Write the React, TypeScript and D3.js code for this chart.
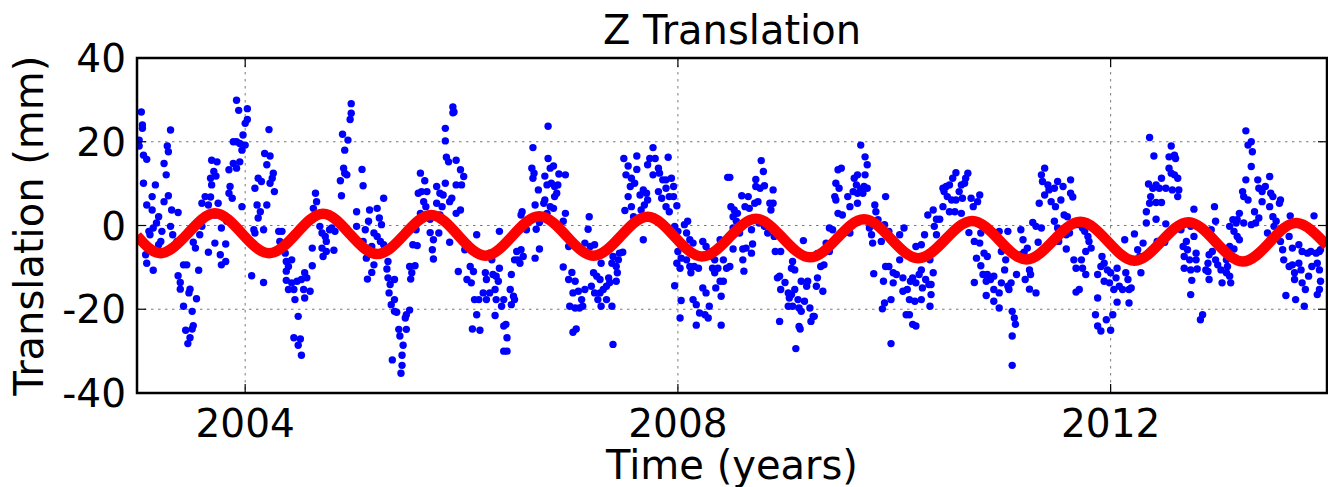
import React, { useEffect, useRef } from 'react';
import * as d3 from 'd3';

const obs2003 = [
  [2003.04,27.1],[2003.05,24.0],[2003.05,23.2],[2003.02,20.4],[2003.02,19.0],[2003.06,16.8],[2003.09,15.8],[2003.06,10.1],
  [2003.14,6.9],[2003.09,4.9],[2003.14,3.7],[2003.17,9.7],[2003.20,2.1],[2003.18,0.6],[2003.15,-0.6],[2003.11,-1.4],
  [2003.12,-2.2],[2003.23,-1.4],[2003.22,-3.8],[2003.20,-4.6],[2003.17,-6.2],[2003.08,-7.0],[2003.09,-9.0],[2003.15,-10.7],
  [2003.31,22.8],[2003.28,19.0],[2003.29,17.6],[2003.25,14.8],[2003.27,12.1],[2003.29,7.1],[2003.25,5.7],[2003.32,3.7],
  [2003.38,3.1],[2003.31,-0.2],[2003.33,-2.2],[2003.37,-3.8],[2003.38,-12.0],[2003.40,-13.6],[2003.40,-15.2],[2003.43,-9.4],
  [2003.46,-9.4],[2003.49,-15.2],[2003.48,-16.1],[2003.55,-17.5],[2003.43,-19.3],[2003.51,-20.5],[2003.45,-25.0],[2003.52,-23.9],
  [2003.51,-24.7],[2003.49,-26.8],[2003.47,-28.2],[2003.57,-10.7],[2003.54,-5.4],[2003.52,-4.0],[2003.58,-2.2],[2003.60,-0.2],
  [2003.63,2.1],[2003.60,5.3],[2003.63,6.9],[2003.68,6.8],[2003.66,4.9],[2003.68,11.3],[2003.69,15.6],[2003.74,15.2],
  [2003.71,12.9],[2003.73,11.8],[2003.69,9.7],[2003.75,5.3],[2003.72,2.5],[2003.66,-6.4],[2003.72,-4.2],[2003.77,-7.0],
  [2003.78,-9.4],[2003.82,-4.4],[2003.82,-8.6],[2003.78,-0.6],[2003.83,1.0],[2003.85,7.7],[2003.88,6.5],[2003.86,9.3],
  [2003.85,13.3],[2003.89,14.8],[2003.92,13.7],[2003.92,29.9],[2003.94,27.5],[2004.02,27.9],[2004.00,24.4],[2004.02,25.3],
  [2003.98,21.6],[2003.89,20.0],[2003.92,20.0],[2003.95,19.6],[2003.97,18.0],[2003.95,15.2],[2003.97,4.5],[2004.00,19.2],
  [2004.06,-12.0],[2004.17,-13.6],[2004.08,-1.0],[2004.09,-1.8],[2004.17,-1.0],[2004.12,1.8],[2004.14,3.3],[2004.11,4.9],
  [2004.09,8.9],[2004.12,11.3],[2004.15,10.5],[2004.20,4.9],[2004.20,14.5],[2004.18,17.2],[2004.23,16.6],[2004.22,22.9],
  [2004.25,11.3],[2004.26,12.5],[2004.27,8.1],[2004.23,10.1],[2004.31,-1.4],[2004.34,-1.4],[2004.32,-3.8],[2004.34,-5.0],
  [2004.37,-6.6],[2004.38,-8.6],[2004.40,-9.8],[2004.43,-8.2],[2004.38,-10.9],[2004.38,-13.1],[2004.43,-13.7],[2004.40,-15.3],
  [2004.45,-15.3],[2004.48,-13.3],[2004.52,-12.9],[2004.55,-11.3],[2004.57,-12.5],[2004.54,-15.3],[2004.60,-15.7],[2004.55,-17.3],
  [2004.46,-17.7],[2004.49,-21.7],[2004.45,-26.8],[2004.51,-27.1],[2004.49,-28.6],[2004.52,-31.0],[2004.62,-5.4],[2004.62,-9.6],
  [2004.65,7.7],[2004.63,4.1],[2004.66,5.7],[2004.69,-0.2],[2004.71,-1.8],[2004.74,-2.6],[2004.71,-5.4],[2004.75,-3.8],
  [2004.72,-7.4],[2004.75,-6.2],[2004.78,-1.0],
];

const obs2005 = [
  [2004.80,-0.6],[2004.83,-1.4],[2004.82,-5.9],[2004.98,29.1],[2004.98,26.8],[2004.97,25.3],[2004.90,21.8],[2004.95,20.4],
  [2004.92,18.0],[2004.91,13.7],[2004.92,12.5],[2004.94,12.1],[2004.88,10.7],[2004.89,7.1],[2005.08,13.4],[2005.09,9.5],
  [2005.03,3.3],[2005.03,-0.2],[2005.09,-3.8],[2005.12,-7.8],[2005.13,-12.8],[2005.17,-11.2],[2005.19,-9.4],[2005.11,-1.0],
  [2005.14,1.0],[2005.15,3.7],[2005.22,4.1],[2005.24,1.8],[2005.26,0.2],[2005.19,-1.8],[2005.22,-2.6],[2005.17,-5.0],
  [2005.25,-3.8],[2005.28,-4.6],[2005.28,6.5],[2005.32,-8.6],[2005.31,-10.4],[2005.32,-12.5],[2005.38,-12.9],[2005.34,-14.1],
  [2005.33,-16.1],[2005.38,-17.7],[2005.35,-18.9],[2005.38,-20.5],[2005.40,-20.7],[2005.52,-20.2],[2005.49,-21.3],[2005.48,-22.1],
  [2005.42,-24.8],[2005.43,-26.4],[2005.49,-24.8],[2005.46,-28.6],[2005.36,-32.1],[2005.45,-31.0],[2005.45,-33.4],[2005.44,-35.3],
  [2005.52,-9.8],[2005.57,-9.6],[2005.54,-11.3],[2005.53,-12.8],[2005.55,-4.6],[2005.59,-4.8],[2005.58,-1.0],[2005.62,12.5],
  [2005.66,10.7],[2005.60,7.7],[2005.63,8.1],[2005.68,8.1],[2005.65,5.7],[2005.67,4.5],[2005.62,2.9],[2005.66,2.1],
  [2005.71,1.5],[2005.71,-1.7],[2005.74,-3.4],[2005.73,-5.8],[2005.74,-8.0],[2005.77,9.3],[2005.80,7.7],[2005.83,7.3],
  [2005.77,5.3],[2005.82,4.5],[2005.85,10.1],[2005.80,2.5],[2005.79,-1.8],[2005.89,-4.0],[2005.85,23.2],[2005.85,20.2],
  [2005.86,16.3],[2005.88,15.2],[2005.95,15.6],[2005.92,28.3],[2005.93,27.1],[2005.92,26.9],[2005.99,13.3],[2006.02,11.7],
  [2006.00,9.7],[2005.95,9.7],[2005.91,6.5],[2005.89,5.7],[2005.99,3.7],[2005.95,2.9],[2006.03,-5.8],[2005.97,-11.0],
  [2006.05,-12.9],[2006.08,-9.8],[2006.11,-11.0],[2006.09,-13.7],[2006.14,-2.2],[2006.12,-17.7],[2006.16,-17.7],[2006.20,-16.1],
  [2006.22,-11.3],[2006.23,-12.9],[2006.26,-6.6],[2006.28,-8.2],[2006.29,-11.7],[2006.32,-12.1],[2006.34,-13.3],[2006.35,-10.2],
  [2006.31,-15.3],[2006.26,-16.1],[2006.23,-17.7],[2006.35,-1.4],[2006.32,-17.7],[2006.37,-19.3],[2006.39,-17.7],[2006.45,-15.3],
  [2006.48,-16.9],[2006.49,-17.7],[2006.46,-18.9],[2006.46,-11.7],[2006.49,-8.2],[2006.51,-6.2],[2006.55,-5.8],[2006.52,-8.2],
  [2006.57,-7.4],[2006.54,-9.0],[2006.39,-24.0],[2006.41,-23.6],[2006.42,-26.8],[2006.39,-30.0],[2006.42,-30.0],[2006.14,-21.3],
  [2006.31,-21.5],[2006.10,-24.7],[2006.17,-25.0],[2006.55,2.5],[2006.56,3.3],[2006.60,-1.0],
];

const obs2007 = [
  [2006.66,18.6],[2006.65,13.7],[2006.66,11.3],[2006.67,12.5],[2006.68,4.9],[2006.69,-0.9],[2006.72,-5.6],[2006.68,-7.8],
  [2006.80,23.7],[2006.80,16.0],[2006.77,11.8],[2006.82,13.7],[2006.85,14.2],[2006.90,12.3],[2006.96,12.1],[2006.79,9.7],
  [2006.83,10.1],[2006.86,9.3],[2006.89,9.7],[2006.88,7.7],[2006.86,6.9],[2006.71,8.5],[2006.76,5.3],[2006.77,6.1],
  [2006.82,4.5],[2006.85,4.1],[2006.76,2.1],[2006.72,0.7],[2006.79,2.9],[2006.96,2.9],[2006.94,1.0],[2006.99,-5.0],
  [2006.94,-9.9],[2007.02,-11.2],[2006.99,-12.9],[2007.05,-13.3],[2007.03,-16.1],[2007.08,-15.7],[2007.11,-17.7],[2007.14,-15.3],
  [2007.12,-19.3],[2007.00,-19.3],[2007.05,-19.7],[2007.09,-19.7],[2007.03,-25.5],[2007.06,-24.7],[2007.18,2.1],[2007.17,-0.9],
  [2007.14,-4.2],[2007.19,-5.0],[2007.23,-4.6],[2007.20,-7.4],[2007.22,-11.3],[2007.25,-12.1],[2007.28,-12.9],[2007.29,-9.0],
  [2007.20,-14.5],[2007.23,-16.1],[2007.28,-16.1],[2007.31,-15.3],[2007.34,-14.5],[2007.36,-12.5],[2007.37,-13.6],[2007.26,-17.7],
  [2007.29,-19.3],[2007.34,-17.7],[2007.39,-19.3],[2007.40,-28.4],[2007.39,-9.0],[2007.40,-7.4],[2007.43,-9.8],[2007.45,-8.2],
  [2007.46,-6.6],[2007.49,-6.4],[2007.44,-11.3],[2007.43,-13.3],[2007.50,16.0],[2007.54,14.2],[2007.52,12.1],[2007.57,11.3],
  [2007.56,9.3],[2007.62,13.4],[2007.62,16.6],[2007.60,10.1],[2007.54,6.9],[2007.57,4.5],[2007.51,3.6],[2007.59,2.1],
  [2007.65,7.3],[2007.68,8.5],[2007.71,7.7],[2007.72,6.1],[2007.69,4.9],[2007.66,3.7],[2007.68,-3.4],[2007.74,16.0],
  [2007.72,14.5],[2007.77,18.6],[2007.79,16.0],[2007.77,12.1],[2007.82,13.7],[2007.83,12.5],[2007.86,10.9],[2007.89,10.9],
  [2007.94,11.3],[2007.96,9.3],[2007.91,16.3],[2007.82,8.1],[2007.85,6.5],[2007.89,8.9],[2007.92,6.9],[2007.96,6.9],
  [2007.99,4.7],[2007.89,4.5],[2007.92,3.3],[2007.97,-0.2],[2008.00,-1.4],[2007.99,-3.4],[2008.00,-6.2],[2008.03,-7.8],
  [2008.09,1.0],[2008.06,0.2],[2008.08,-1.8],[2008.11,-3.4],[2008.14,-4.2],[2007.99,-9.0],[2008.02,-10.2],[2008.08,-8.2],
  [2008.11,-9.8],[2008.12,-11.3],[2008.15,-9.8],[2008.19,-10.2],[2008.23,-3.8],[2008.26,-5.0],[2008.29,-6.2],[2008.31,-7.4],
  [2008.34,-8.2],[2008.39,-3.4],[2008.42,-8.2],[2008.45,-10.2],[2008.37,-10.2],[2008.32,-10.2],[2008.34,-11.3],[2008.39,-13.3],
  [2008.42,-13.3],[2008.35,-14.9],[2008.40,-16.9],[2008.29,-19.3],[2008.23,-14.9],[2008.26,-16.1],[2008.14,-17.7],[2008.17,-18.9],
  [2008.20,-20.9],[2008.25,-21.3],[2008.28,-22.1],[2008.17,-23.8],[2008.40,-23.8],[2007.97,-14.4],[2008.03,-17.9],[2008.02,-22.1],
  [2008.46,11.5],
];

const obs2009 = [
  [2008.48,11.5],[2008.49,4.5],[2008.52,3.7],[2008.51,2.1],[2008.54,1.0],[2008.55,2.9],[2008.51,-0.6],[2008.57,-1.8],
  [2008.51,-5.6],[2008.48,-9.8],[2008.59,7.1],[2008.65,6.9],[2008.66,4.1],[2008.62,4.5],[2008.71,5.3],[2008.74,5.7],
  [2008.77,15.5],[2008.79,12.9],[2008.72,11.0],[2008.76,8.9],[2008.80,9.5],[2008.72,9.3],[2008.88,8.5],[2008.85,5.3],
  [2008.88,5.3],[2008.86,3.7],[2008.68,-1.0],[2008.75,0.6],[2008.80,-0.2],[2008.83,-1.8],[2008.89,-2.6],[2008.60,-5.6],
  [2008.63,-5.4],[2008.68,-6.6],[2008.69,-4.4],[2008.60,-8.2],[2008.61,-10.9],[2008.90,-6.2],[2008.95,-6.2],[2008.94,-12.1],
  [2008.92,-12.5],[2008.95,-15.3],[2008.99,-13.6],[2009.02,-16.1],[2009.03,-17.3],[2009.05,-16.5],[2009.08,-15.3],[2009.05,-10.2],
  [2009.06,-8.6],[2009.08,-10.6],[2008.94,-22.9],[2009.02,-19.3],[2009.06,-19.3],[2009.12,-19.7],[2009.14,-20.5],[2009.11,-17.7],
  [2009.17,-18.1],[2009.14,-13.3],[2009.19,-14.5],[2009.20,-13.3],[2009.22,-19.7],[2009.25,-21.7],[2009.23,-22.9],[2009.26,-21.7],
  [2009.12,-24.1],[2009.13,-24.7],[2009.09,-29.4],[2009.16,-3.6],[2009.28,-14.5],[2009.29,-12.5],[2009.34,-15.7],[2009.29,-6.7],
  [2009.32,-9.8],[2009.35,-9.4],[2009.37,-4.2],[2009.40,-0.6],[2009.43,-1.0],[2009.39,-5.4],[2009.40,-6.2],[2009.45,6.9],
  [2009.46,6.1],[2009.48,13.3],[2009.51,13.7],[2009.49,8.9],[2009.46,10.1],[2009.48,2.9],[2009.52,2.5],[2009.57,6.9],
  [2009.59,-1.8],[2009.59,4.5],[2009.63,11.3],[2009.65,9.7],[2009.66,12.1],[2009.62,8.1],[2009.66,7.7],[2009.69,8.7],
  [2009.71,7.7],[2009.72,9.3],[2009.73,12.1],[2009.75,8.9],[2009.69,19.2],[2009.73,16.4],[2009.75,14.5],[2009.66,5.3],
  [2009.77,-0.6],[2009.79,-2.2],[2009.80,-4.2],[2009.82,4.9],[2009.83,3.3],[2009.85,1.4],[2009.88,-3.8],[2009.92,6.9],
  [2009.91,0.2],[2009.95,-1.4],[2009.92,-9.8],[2009.95,-9.8],[2009.99,-11.3],[2010.02,-11.7],[2010.05,-8.2],[2010.05,-2.2],
  [2010.09,-0.6],[2009.90,-13.3],[2009.99,-13.7],[2010.08,-12.5],[2010.12,-15.3],[2010.08,-15.7],[2010.15,-13.3],[2010.17,-12.5],
  [2010.20,-13.7],[2010.23,-11.7],[2010.25,-10.6],[2010.26,-14.9],[2010.29,-12.9],[2010.32,-14.1],[2010.25,-17.7],[2010.19,-18.1],
  [2010.14,-17.7],[2010.11,-21.3],[2010.14,-21.3],[2010.17,-23.6],[2010.20,-24.0],[2009.97,-17.7],[2009.91,-18.5],[2009.89,-19.9],
  [2009.97,-28.2],[2009.81,-11.5],[2010.20,-5.0],[2010.25,-4.6],[2010.28,-2.2],[2010.31,2.5],
];

const obs2011 = [
  [2010.36,3.7],[2010.39,1.5],[2010.37,-0.2],[2010.39,-2.2],[2010.42,1.5],[2010.33,-8.2],[2010.36,-11.3],[2010.34,-14.1],
  [2010.34,-16.5],[2010.33,-19.3],[2010.45,8.9],[2010.48,9.3],[2010.46,8.1],[2010.49,6.9],[2010.51,9.7],[2010.54,11.3],
  [2010.57,12.6],[2010.62,9.7],[2010.65,10.1],[2010.68,12.5],[2010.66,11.3],[2010.60,8.1],[2010.57,6.1],[2010.53,6.1],
  [2010.63,6.5],[2010.45,4.5],[2010.51,3.3],[2010.56,3.3],[2010.62,2.9],[2010.71,6.5],[2010.73,4.5],[2010.77,5.7],
  [2010.79,7.3],[2010.69,-1.7],[2010.74,-3.8],[2010.79,-4.2],[2010.80,-1.8],[2010.76,-7.8],[2010.80,-9.6],[2010.83,-6.6],
  [2010.86,-7.4],[2010.82,-11.7],[2010.86,-11.7],[2010.85,-13.3],[2010.89,-12.9],[2010.92,-12.1],[2010.74,-13.6],[2010.85,-16.7],
  [2010.92,-15.3],[2010.92,-18.1],[2010.97,-19.7],[2010.97,-16.1],[2010.99,-13.7],[2011.02,-10.6],[2011.03,-8.2],[2010.99,-6.2],
  [2010.97,-1.4],[2011.05,-1.4],[2011.06,-15.3],[2011.05,-14.5],[2011.08,-13.7],[2011.09,-20.5],[2011.11,-22.1],[2011.12,-23.6],
  [2011.09,-26.4],[2011.09,-33.4],[2011.13,-11.7],[2011.17,-1.0],[2011.19,-3.4],[2011.17,-7.0],[2011.23,-5.4],[2011.20,-6.4],
  [2011.22,-8.2],[2011.25,-10.6],[2011.21,-12.9],[2011.26,-11.7],[2011.25,-15.2],[2011.31,-16.1],[2011.28,0.7],[2011.31,-0.2],
  [2011.33,-4.0],[2011.36,-0.6],[2011.39,13.7],[2011.36,12.1],[2011.37,10.5],[2011.42,9.7],[2011.39,7.3],[2011.34,5.3],
  [2011.43,8.5],[2011.48,8.9],[2011.51,10.5],[2011.45,5.7],[2011.49,4.5],[2011.56,9.3],[2011.54,6.1],[2011.63,10.9],
  [2011.63,7.7],[2011.65,6.8],[2011.57,2.5],[2011.60,2.1],[2011.48,1.0],[2011.51,-0.6],[2011.56,-1.8],[2011.59,-2.2],
  [2011.52,-3.8],[2011.59,-5.6],[2011.62,-1.8],[2011.69,0.2],[2011.74,-0.6],[2011.76,-1.4],[2011.79,-2.6],[2011.80,-3.8],
  [2011.82,-5.4],[2011.77,-6.2],[2011.73,-8.2],[2011.66,-8.2],[2011.68,-10.2],[2011.74,-10.2],[2011.77,-11.7],[2011.71,-15.3],
  [2011.68,-15.9],[2011.88,-17.3],[2011.86,-21.3],[2011.88,-24.0],[2011.91,-25.2],[2011.96,-22.5],[2012.00,-25.0],[2012.02,-21.3],
  [2011.92,-7.4],[2011.94,-9.0],[2011.91,-9.8],[2011.88,-11.7],[2011.94,-13.3],[2011.97,-10.6],[2012.00,-11.3],[2011.99,-13.7],
  [2012.03,-15.3],[2012.05,-12.5],[2012.06,-10.2],[2012.08,-14.5],[2012.11,-15.3],[2012.14,-11.3],[2012.16,-12.9],[2012.17,-15.3],
  [2012.17,-18.5],[2012.06,-18.3],[2012.13,-3.4],
];

const obs2013 = [
  [2012.22,-2.0],[2012.30,-4.2],[2012.25,-5.8],[2012.27,-7.4],[2012.28,-11.3],[2012.19,-14.9],[2012.36,21.0],[2012.40,16.6],
  [2012.56,19.0],[2012.54,16.4],[2012.59,16.8],[2012.60,16.0],[2012.54,13.7],[2012.56,12.5],[2012.59,12.1],[2012.62,11.3],
  [2012.47,11.3],[2012.35,9.9],[2012.39,8.9],[2012.42,9.7],[2012.45,8.9],[2012.51,8.9],[2012.57,8.5],[2012.62,6.9],
  [2012.63,8.5],[2012.37,6.9],[2012.36,5.3],[2012.42,5.5],[2012.47,5.5],[2012.33,3.3],[2012.42,1.5],[2012.33,0.6],
  [2012.51,0.4],[2012.65,-1.0],[2012.43,-3.8],[2012.50,-4.0],[2012.77,3.9],[2012.74,-0.2],[2012.77,-2.6],[2012.67,-5.0],
  [2012.70,-3.8],[2012.71,-5.8],[2012.68,-7.4],[2012.73,-8.2],[2012.79,-6.6],[2012.79,-8.2],[2012.74,-10.6],[2012.68,-10.2],
  [2012.80,-10.4],[2012.75,-13.1],[2012.74,-16.5],[2012.85,-21.3],[2012.83,-22.5],[2012.91,-7.0],[2012.90,-9.0],[2012.94,-6.2],
  [2012.88,-10.6],[2012.90,-11.0],[2012.91,-12.9],[2012.97,-8.2],[2012.99,-9.4],[2013.02,-10.6],[2013.03,-13.7],[2013.07,-8.2],
  [2013.08,-9.8],[2013.10,-12.1],[2013.11,-13.7],[2013.07,-11.3],[2013.10,-5.0],[2013.14,-5.6],[2013.11,-7.8],[2012.96,4.5],
  [2012.97,1.0],[2012.93,-1.0],[2013.10,-0.2],[2013.13,1.4],[2013.16,0.6],[2013.19,2.9],[2013.14,-1.4],[2013.17,-2.6],
  [2013.19,-3.4],[2013.25,22.6],[2013.27,19.2],[2013.30,20.0],[2013.31,17.6],[2013.30,14.1],[2013.25,10.9],[2013.22,8.1],
  [2013.23,6.9],[2013.27,6.1],[2013.17,1.4],[2013.23,0.6],[2013.30,0.2],[2013.33,3.3],[2013.36,10.9],[2013.37,8.9],
  [2013.40,8.1],[2013.43,9.3],[2013.47,11.7],[2013.48,7.7],[2013.50,6.9],[2013.40,5.7],[2013.47,4.5],[2013.37,1.8],
  [2013.34,0.6],[2013.50,2.1],[2013.53,1.0],[2013.56,5.3],[2013.57,6.1],[2013.51,-0.2],[2013.54,-1.8],[2013.45,-1.8],
  [2013.57,-3.8],[2013.59,-5.8],[2013.62,-0.6],[2013.65,-2.6],[2013.66,2.3],[2013.68,-5.4],[2013.74,-4.6],[2013.77,-6.2],
  [2013.88,2.3],[2013.82,-6.6],[2013.85,-6.2],[2013.90,-6.6],[2013.93,-6.2],[2013.94,-5.8],[2013.60,-8.2],[2013.65,-9.8],
  [2013.68,-9.4],[2013.70,-11.3],[2013.70,-12.9],[2013.74,-9.0],[2013.76,-10.6],[2013.77,-13.7],[2013.80,-15.3],[2013.83,-12.1],
  [2013.86,-9.8],[2013.91,-9.0],[2013.93,-10.6],[2013.94,-13.3],[2013.93,-15.3],[2013.91,-16.5],[2013.79,-19.3],[2013.71,-17.7],
  [2013.62,-16.7],
];

// fitted annual signal: troughs, crossings and peaks
const fitTimes = [
  2003.00, 2003.22, 2003.47, 2003.72, 2003.97, 2004.22, 2004.47, 2004.72, 2004.97, 2005.22, 2005.47, 2005.72,
  2005.97, 2006.22, 2006.47, 2006.72, 2006.97, 2007.22, 2007.47, 2007.72, 2007.97, 2008.22, 2008.47, 2008.72,
  2008.97, 2009.22, 2009.47, 2009.72, 2009.97, 2010.22, 2010.47, 2010.72, 2010.97, 2011.22, 2011.47, 2011.72,
  2011.97, 2012.22, 2012.47, 2012.72, 2012.97, 2013.22, 2013.47, 2013.72, 2014.00,
];
const fitValues = [
  -2.4, -6.6, -1.9, 2.9, -1.9, -6.6, -2.0, 2.8, -2.1, -6.8, -2.2, 2.5,
  -2.4, -7.2, -2.5, 2.2, -2.5, -7.2, -2.6, 2.1, -2.7, -7.4, -3.0, 1.6,
  -3.0, -7.6, -3.1, 1.5, -3.2, -7.8, -3.4, 1.1, -3.5, -8.1, -3.6, 0.9,
  -3.7, -8.4, -3.8, 0.8, -3.9, -8.6, -4.0, 0.6, -4.8,
];

const xTicks = [2004, 2008, 2012];
const yTicks = [-40, -20, 0, 20, 40];

const W = 1328;
const H = 487;
const margin = { left: 137, right: 1, top: 58, bottom: 94 };
const FONT = '"DejaVu Sans", sans-serif';

export default function App() {
  const ref = useRef<SVGSVGElement>(null);

  useEffect(() => {
    if (!ref.current) return;
    const svg = d3.select(ref.current);
    svg.selectAll('*').remove();

    const x = d3.scaleLinear().domain([2003, 2014]).range([margin.left, W - margin.right]);
    const y = d3.scaleLinear().domain([-40, 40]).range([H - margin.bottom, margin.top]);
    const [x0, x1] = x.range();
    const [y0, y1] = [y(40), y(-40)];

    svg.append('defs').append('clipPath').attr('id', 'plot-clip')
      .append('rect').attr('x', x0).attr('y', y0).attr('width', x1 - x0).attr('height', y1 - y0);

    // dotted grid
    const grid = svg.append('g').attr('stroke', '#7a7a7a').attr('stroke-width', 1).attr('stroke-dasharray', '2.5,4.5');
    yTicks.filter(t => t > -40 && t < 40).forEach(t => {
      grid.append('line').attr('x1', x0).attr('x2', x1).attr('y1', y(t)).attr('y2', y(t));
    });
    xTicks.forEach(t => {
      grid.append('line').attr('x1', x(t)).attr('x2', x(t)).attr('y1', y0).attr('y2', y1);
    });

    const plot = svg.append('g').attr('clip-path', 'url(#plot-clip)');

    const obs = [...obs2003, ...obs2005, ...obs2007, ...obs2009, ...obs2011, ...obs2013];
    plot.append('g').attr('fill', '#0000ff')
      .selectAll('circle')
      .data(obs)
      .enter()
      .append('circle')
      .attr('cx', d => x(d[0]))
      .attr('cy', d => y(d[1]))
      .attr('r', 3.7);

    const fit = fitTimes.map((t, i) => [t, fitValues[i]] as [number, number]);
    const line = d3.line<[number, number]>().x(d => x(d[0])).y(d => y(d[1])).curve(d3.curveNatural);
    plot.append('path')
      .datum(fit)
      .attr('fill', 'none')
      .attr('stroke', '#ff0000')
      .attr('stroke-width', 10.5)
      .attr('d', line);

    // frame + inward ticks on all four sides
    const axes = svg.append('g').attr('stroke', '#000');
    axes.append('rect').attr('x', x0).attr('y', y0).attr('width', x1 - x0).attr('height', y1 - y0)
      .attr('fill', 'none').attr('stroke-width', 2.5);
    const tl = 9;
    xTicks.forEach(t => {
      axes.append('line').attr('x1', x(t)).attr('x2', x(t)).attr('y1', y1).attr('y2', y1 - tl).attr('stroke-width', 1.2);
      axes.append('line').attr('x1', x(t)).attr('x2', x(t)).attr('y1', y0).attr('y2', y0 + tl).attr('stroke-width', 1.2);
    });
    yTicks.forEach(t => {
      axes.append('line').attr('x1', x0).attr('x2', x0 + tl).attr('y1', y(t)).attr('y2', y(t)).attr('stroke-width', 1.2);
      axes.append('line').attr('x1', x1).attr('x2', x1 - tl).attr('y1', y(t)).attr('y2', y(t)).attr('stroke-width', 1.2);
    });

    const text = svg.append('g').attr('font-family', FONT).attr('font-size', 39).attr('fill', '#000');
    xTicks.forEach(t => {
      text.append('text').attr('x', x(t)).attr('y', 437).attr('text-anchor', 'middle').text(String(t));
    });
    yTicks.forEach(t => {
      text.append('text').attr('x', 126).attr('y', y(t)).attr('dy', '0.36em').attr('text-anchor', 'end').text(String(t));
    });
    text.append('text').attr('x', (x0 + x1) / 2).attr('y', 43.5).attr('text-anchor', 'middle')
      .attr('font-size', 40).text('Z Translation');
    text.append('text').attr('x', (x0 + x1) / 2).attr('y', 479).attr('text-anchor', 'middle')
      .attr('font-size', 40).text('Time (years)');
    text.append('text')
      .attr('transform', `translate(43, ${(y0 + y1) / 2}) rotate(-90)`)
      .attr('text-anchor', 'middle')
      .attr('font-size', 40)
      .text('Translation (mm)');
  }, []);

  return (
    <svg
      ref={ref}
      width={W}
      height={H}
      style={{ position: 'absolute', left: 0, top: 0, background: '#fff' }}
    />
  );
}
